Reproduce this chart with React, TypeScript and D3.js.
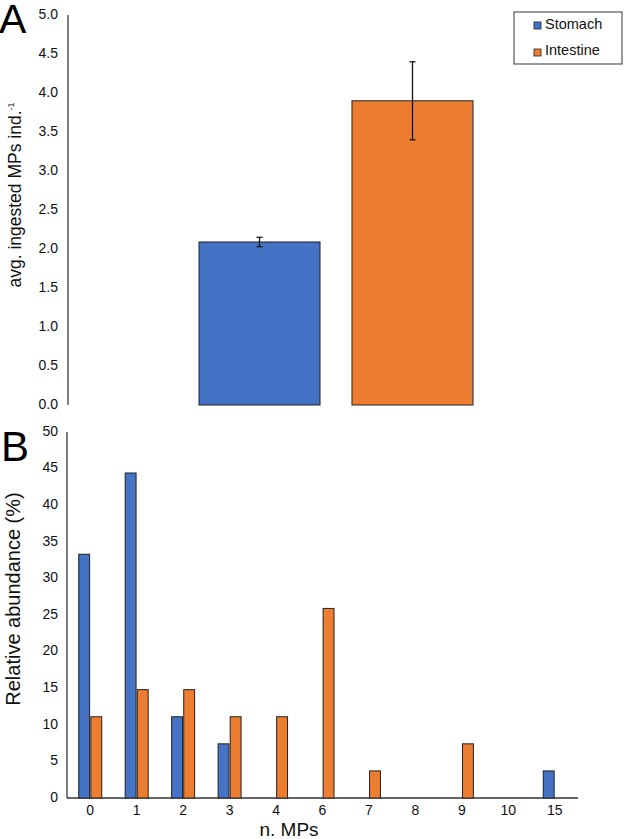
import React from "react";
import * as d3 from "d3";

const groupsA = ["Stomach", "Intestine"];
const meansA = [2.09, 3.9];
const errorsA = [0.06, 0.5];
const ticksA = [0, 0.5, 1, 1.5, 2, 2.5, 3, 3.5, 4, 4.5, 5];

const categoriesB = ["0", "1", "2", "3", "4", "6", "7", "8", "9", "10", "15"];
const stomachB = [33.3, 44.4, 11.1, 7.4, 0, 0, 0, 0, 0, 0, 3.7];
const intestineB = [11.1, 14.8, 14.8, 11.1, 11.1, 25.9, 3.7, 0, 7.4, 0, 0];
const ticksB = [0, 5, 10, 15, 20, 25, 30, 35, 40, 45, 50];

const colors = ["#4472C4", "#ED7D31"];
const FONT = "'Liberation Sans', Arial, Helvetica, sans-serif";

export default function App() {
  const W = 625, H = 839;
  // Panel A
  const yA = d3.scaleLinear().domain([0, 5]).range([405, 15]);
  const xA = d3.scaleBand().domain(groupsA).range([199, 473]).paddingInner(0.209).paddingOuter(0);
  // Panel B
  const yB = d3.scaleLinear().domain([0, 50]).range([798, 432]);
  const xB = d3.scaleBand().domain(categoriesB).range([67, 578]);
  const inner = d3.scaleBand().domain(["s", "i"]).range([0, 23]).paddingInner(0.1);
  const offB = (xB.bandwidth() - 23) / 2;

  return (
    <svg width={W} height={H} style={{ position: "absolute", left: 0, top: 0, background: "#fff" }} fontFamily={FONT}>
      <rect x={0} y={0} width={W} height={H} fill="#fff" />
      {/* Panel A */}
      <text x={-1} y={33} fontSize={41} fill="#000">A</text>
      <line x1={68} x2={68} y1={yA(5)} y2={yA(0)} stroke="#555" strokeWidth={1.5} />
      {ticksA.map((t) => (
        <text key={t} x={58} y={yA(t)} fontSize={14} textAnchor="end" dominantBaseline="middle" fill="#111">
          {t.toFixed(1)}
        </text>
      ))}
      <text
        transform={`translate(21, 195) rotate(-90)`}
        fontSize={17.5}
        textAnchor="middle"
        fill="#111"
      >
        avg. ingested MPs ind.
        <tspan fontSize={9} dy={-7}>-1</tspan>
      </text>
      {groupsA.map((g, i) => {
        const x = xA(g)!;
        const w = xA.bandwidth();
        const cx = x + w / 2;
        const e = errorsA[i];
        return (
          <g key={g}>
            <rect x={x} y={yA(meansA[i])} width={w} height={yA(0) - yA(meansA[i])} fill={colors[i]} stroke="#222" strokeWidth={1} />
            <line x1={cx} x2={cx} y1={yA(meansA[i] + e)} y2={yA(meansA[i] - e)} stroke="#111" strokeWidth={1.3} />
            <line x1={cx - 3} x2={cx + 3} y1={yA(meansA[i] + e)} y2={yA(meansA[i] + e)} stroke="#111" strokeWidth={1.3} />
            <line x1={cx - 3} x2={cx + 3} y1={yA(meansA[i] - e)} y2={yA(meansA[i] - e)} stroke="#111" strokeWidth={1.3} />
          </g>
        );
      })}
      {/* Legend */}
      <rect x={514} y={12} width={108} height={52} fill="#fff" stroke="#333" strokeWidth={1} />
      {groupsA.map((g, i) => (
        <g key={g}>
          <rect x={534} y={22 + i * 27} width={7} height={7} fill={colors[i]} stroke="#222" strokeWidth={0.8} />
          <text x={545} y={29 + i * 26} fontSize={14.5} fill="#111">{g}</text>
        </g>
      ))}

      {/* Panel B */}
      <text x={1} y={461} fontSize={42} fill="#000">B</text>
      <line x1={67} x2={67} y1={yB(50)} y2={yB(0)} stroke="#555" strokeWidth={1.5} />
      <line x1={67} x2={578} y1={yB(0)} y2={yB(0)} stroke="#333" strokeWidth={1.5} />
      {ticksB.map((t) => (
        <text key={t} x={58} y={yB(t)} fontSize={14} textAnchor="end" dominantBaseline="middle" fill="#111">
          {t}
        </text>
      ))}
      {categoriesB.map((c, i) => {
        const x0 = xB(c)! + offB;
        return (
          <g key={c}>
            {stomachB[i] > 0 && (
              <rect x={x0 + inner("s")!} y={yB(stomachB[i])} width={inner.bandwidth()} height={yB(0) - yB(stomachB[i])} fill={colors[0]} stroke="#222" strokeWidth={1} />
            )}
            {intestineB[i] > 0 && (
              <rect x={x0 + inner("i")!} y={yB(intestineB[i])} width={inner.bandwidth()} height={yB(0) - yB(intestineB[i])} fill={colors[1]} stroke="#222" strokeWidth={1} />
            )}
            <text x={xB(c)! + xB.bandwidth() / 2} y={811} fontSize={14} textAnchor="middle" dominantBaseline="middle" fill="#111">
              {c}
            </text>
          </g>
        );
      })}
      <text
        transform={`translate(20, 599) rotate(-90)`}
        fontSize={20}
        textAnchor="middle"
        fill="#111"
      >
        Relative abundance (%)
      </text>
      <text x={289} y={836} fontSize={19} textAnchor="middle" fill="#111">n. MPs</text>
    </svg>
  );
}
